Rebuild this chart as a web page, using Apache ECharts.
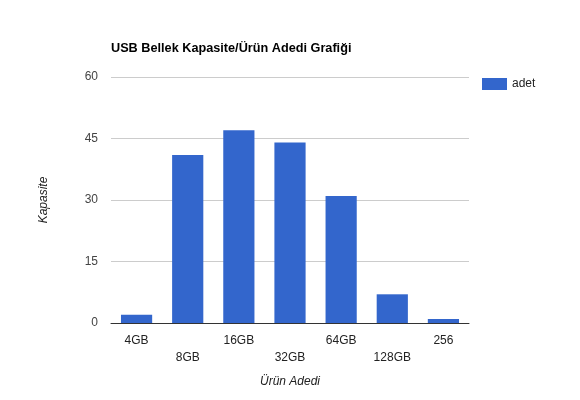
<!DOCTYPE html>
<html><head><meta charset="utf-8">
<script src="https://cdn.jsdelivr.net/npm/echarts@6/dist/echarts.min.js"></script>
<style>html,body{margin:0;padding:0;background:#fff}#c{width:580px;height:400px}</style>
</head><body><div id="c"></div>
<script>
const categories = ['4GB','8GB','16GB','32GB','64GB','128GB','256'];
const adet = [2, 41, 47, 44, 31, 7, 1];
const yTicks = [0, 15, 30, 45, 60];

const chart = echarts.init(document.getElementById('c'));
chart.setOption({
  animation: false,
  textStyle: {fontFamily: '"Liberation Sans", Arial, sans-serif'},
  title: {
    text: 'USB Bellek Kapasite/Ürün Adedi Grafiği',
    left: 111, top: 42, padding: 0,
    textStyle: {fontSize: 12.7, fontWeight: 'bold', color: '#000', fontFamily: '"Liberation Sans", Arial, sans-serif'}
  },
  legend: {
    left: 482, top: 78, orient: 'vertical', padding: 0,
    itemWidth: 25, itemHeight: 12, itemGap: 5,
    icon: 'rect',
    textStyle: {fontSize: 12, color: '#222'},
    data: ['adet']
  },
  grid: {left: 111, right: 111, top: 77, bottom: 77, containLabel: false},
  xAxis: {
    type: 'category', data: categories,
    name: 'Ürün Adedi', nameLocation: 'middle', nameGap: 53,
    nameTextStyle: {fontStyle: 'italic', fontSize: 12, color: '#222'},
    axisLine: {lineStyle: {color: '#333', width: 1}},
    axisTick: {show: false},
    axisLabel: {
      interval: 0, fontSize: 12, color: '#222', margin: 9, lineHeight: 17,
      formatter: (v, i) => (i % 2 ? '\n' + v : v)
    }
  },
  yAxis: {
    type: 'value', min: yTicks[0], max: yTicks[yTicks.length-1], interval: 15,
    name: 'Kapasite', nameLocation: 'middle', nameGap: 61, nameRotate: 90,
    nameTextStyle: {fontStyle: 'italic', fontSize: 12, color: '#222'},
    axisLine: {show: false}, axisTick: {show: false},
    axisLabel: {fontSize: 12, color: '#444', margin: 13},
    splitLine: {lineStyle: {color: '#ccc'}}
  },
  series: [{
    name: 'adet', type: 'bar', data: adet,
    barWidth: '61%',
    itemStyle: {color: '#3366cc'}
  }]
});
</script></body></html>
